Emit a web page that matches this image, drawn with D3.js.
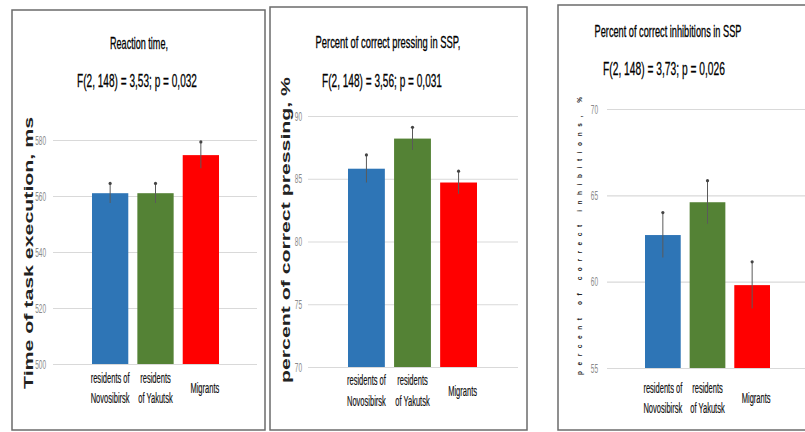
<!DOCTYPE html>
<html>
<head>
<meta charset="utf-8">
<script src="https://cdn.jsdelivr.net/npm/d3@7"></script>
<style>
  body { margin: 0; background: #fff; }
  svg { display: block; }
  text { font-family: "Liberation Sans", Arial, sans-serif; }
</style>
</head>
<body>
<svg width="805" height="432"></svg>
<script>
const groups = ['Novosibirsk', 'Yakutsk', 'Migrants'];
const groupLines = [['residents of', 'Novosibirsk'], ['residents', 'of Yakutsk'], ['Migrants']];
const barColors = ['#2e75b6', '#548235', '#ff0000'];

const reactionTime = [561, 561, 574.6];
const reactionErr = [3.5, 3.5, 4.7];
const reactionTicks = [500, 520, 540, 560, 580];

const pressing = [85.8, 88.2, 84.7];
const pressingErr = [1.1, 0.9, 0.9];
const pressingTicks = [70, 75, 80, 85, 90];

const inhibitions = [62.7, 64.6, 59.8];
const inhibitionsErr = [1.3, 1.25, 1.35];
const inhibitionsTicks = [55, 60, 65, 70];

const svg = d3.select('svg');

// narrow-looking text: draw normally, then squash it horizontally
// len: wanted width in px, or factor when < 1
function narrowText(parent, str, x, y, size, len, anchor) {
  const g = parent.append('g');
  const t = g.append('text')
      .attr('font-size', size)
      .attr('fill', '#111')
      .attr('text-anchor', anchor || 'middle')
      .text(str);
  const w = t.node().getComputedTextLength();
  const f = len < 1 ? len : len / w;
  g.attr('transform', `translate(${x},${y}) scale(${f},1)`);
  return t;
}

// one chart per panel, layout numbers
const panels = [
  {
    box: [12, 10, 265, 430],
    title: 'Reaction time,', titleXY: [139, 49], titleLen: 58,
    stat: 'F(2, 148) = 3,53; p = 0,032', statXY: [137, 87], statLen: 120,
    ylabel: 'Time of task execution, ms', ylabelXY: [28, 253], ylabelLen: 272, ylabelSize: 13, ylabelFit: 'spacingAndGlyphs',
    values: reactionTime, errs: reactionErr, ticks: reactionTicks,
    y: [364, 140], grid: [53, 257], bars: [92, 219], tickX: 46,
    catY: [383, 403]
  },
  {
    box: [270, 7, 527, 430],
    title: 'Percent of correct pressing in SSP,', titleXY: [388, 48], titleLen: 145,
    stat: 'F(2, 148) = 3,56; p = 0,031', statXY: [382, 87], statLen: 120,
    ylabel: 'percent of correct pressing, %', ylabelXY: [286, 230], ylabelLen: 306, ylabelSize: 12.5, ylabelFit: 'spacingAndGlyphs',
    values: pressing, errs: pressingErr, ticks: pressingTicks,
    y: [367, 116], grid: [308, 518], bars: [348, 477], tickX: 302,
    catY: [385, 406]
  },
  {
    box: [558, 5, 812, 430],
    title: 'Percent of correct inhibitions in SSP', titleXY: [668, 37], titleLen: 147,
    stat: 'F(2, 148) = 3,73; p = 0,026', statXY: [664, 75], statLen: 122,
    ylabel: 'percent of correct inhibitions, %', ylabelXY: [580, 236], ylabelLen: 278, ylabelSize: 6.5, ylabelFit: 'spacing',
    values: inhibitions, errs: inhibitionsErr, ticks: inhibitionsTicks,
    y: [368, 109], grid: [607, 812], bars: [645, 770], tickX: 598,
    catY: [393, 413]
  }
];

panels.forEach(p => {
  const g = svg.append('g');

  g.append('rect')
      .attr('x', p.box[0]).attr('y', p.box[1])
      .attr('width', p.box[2] - p.box[0]).attr('height', p.box[3] - p.box[1])
      .attr('fill', '#fff').attr('stroke', '#6b6b6b').attr('stroke-width', 1.5);

  const y = d3.scaleLinear()
      .domain(d3.extent(p.ticks))
      .range(p.y);

  const x = d3.scaleBand()
      .domain(groups)
      .range(p.bars)
      .paddingInner(0.2)
      .paddingOuter(0);

  // gridlines only from the axis, labels drawn narrow by hand
  const yAxis = d3.axisLeft(y)
      .tickValues(p.ticks)
      .tickSize(-(p.grid[1] - p.grid[0]))
      .tickFormat('');

  const ax = g.append('g')
      .attr('transform', `translate(${p.grid[0]},0)`)
      .call(yAxis);
  ax.select('.domain').remove();
  ax.selectAll('.tick line').attr('stroke', '#d9d9d9').attr('stroke-width', 1.2);

  p.ticks.forEach(v => {
    narrowText(g, d3.format('d')(v), p.tickX, y(v) + 4.5, 13, 0.5, 'end')
        .attr('fill', '#8a8a8a');
  });

  // bars
  g.selectAll('rect.bar').data(p.values).enter()
      .append('rect')
      .attr('class', 'bar')
      .attr('x', (d, i) => x(groups[i]))
      .attr('width', x.bandwidth())
      .attr('y', d => y(d))
      .attr('height', d => y(y.domain()[0]) - y(d))
      .attr('fill', (d, i) => barColors[i]);

  // error bars
  const eb = g.selectAll('g.err').data(p.values).enter()
      .append('g').attr('class', 'err');
  eb.append('line')
      .attr('x1', (d, i) => x(groups[i]) + x.bandwidth() / 2)
      .attr('x2', (d, i) => x(groups[i]) + x.bandwidth() / 2)
      .attr('y1', (d, i) => y(d - p.errs[i]))
      .attr('y2', (d, i) => y(d + p.errs[i]))
      .attr('stroke', '#5a5a5a')
      .attr('stroke-width', 1);
  eb.append('circle')
      .attr('cx', (d, i) => x(groups[i]) + x.bandwidth() / 2)
      .attr('cy', (d, i) => y(d + p.errs[i]))
      .attr('r', 1.6)
      .attr('fill', '#444');

  // category labels
  groupLines.forEach((lines, i) => {
    const cx = x(groups[i]) + x.bandwidth() / 2 + (i === 2 ? 4 : 0);
    const ys = lines.length === 1 ? [(p.catY[0] + p.catY[1]) / 2] : p.catY;
    lines.forEach((s, k) => {
      narrowText(g, s, cx, ys[k], 14.5, 0.52)
          .attr('stroke', '#111').attr('stroke-width', 0.2);
    });
  });

  // titles
  narrowText(g, p.title, p.titleXY[0], p.titleXY[1], 16, p.titleLen)
      .attr('fill', '#000').attr('stroke', '#000').attr('stroke-width', 0.3);
  narrowText(g, p.stat, p.statXY[0], p.statXY[1], 19, p.statLen)
      .attr('fill', '#000').attr('stroke', '#000').attr('stroke-width', 0.3);

  g.append('text')
      .attr('transform', `translate(${p.ylabelXY[0]},${p.ylabelXY[1]}) rotate(-90)`)
      .attr('text-anchor', 'middle')
      .attr('dy', '0.35em')
      .attr('font-family', '"DejaVu Sans", sans-serif')
      .attr('font-weight', 'bold')
      .attr('font-size', p.ylabelSize)
      .attr('textLength', p.ylabelLen)
      .attr('lengthAdjust', p.ylabelFit)
      .attr('fill', '#222')
      .text(p.ylabel);
});
</script>
</body>
</html>
